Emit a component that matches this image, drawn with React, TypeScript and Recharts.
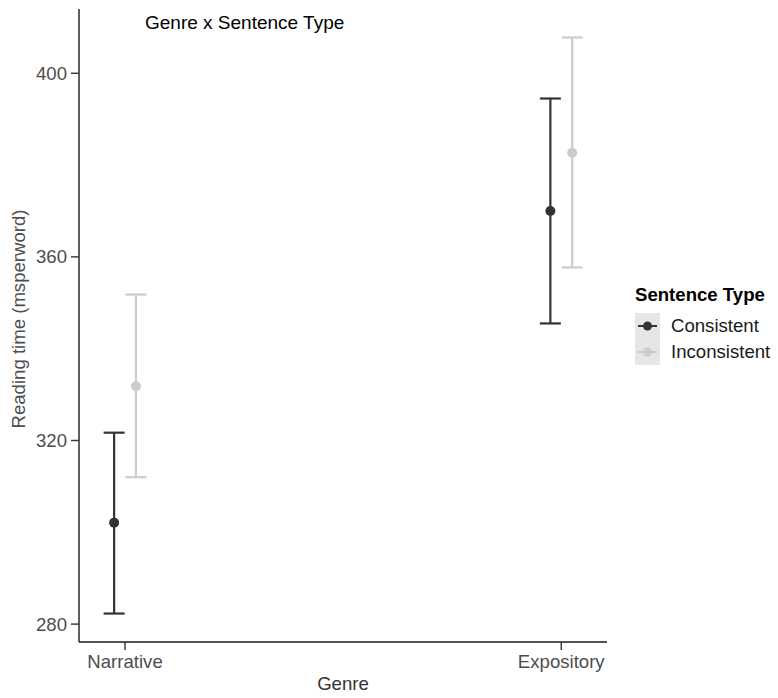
import React from 'react';
import { ComposedChart, Scatter, ErrorBar, XAxis, YAxis, Customized } from 'recharts';

const genres = ['Narrative', 'Expository'];
const seriesNames = ['Consistent', 'Inconsistent'];
const seriesColors = ['#333333', '#cccccc'];
const consistentMean = [302.1, 370.0];
const consistentLower = [282.3, 345.5];
const consistentUpper = [321.7, 394.5];
const inconsistentMean = [331.8, 382.7];
const inconsistentLower = [312.0, 357.7];
const inconsistentUpper = [351.8, 407.8];
const yTicks = [280, 320, 360, 400];

const FONT = '"Liberation Sans", Arial, Helvetica, sans-serif';
const FS = 18.6;
const DODGE = 0.025;

const build = (means: number[], lows: number[], highs: number[], offset: number) =>
  genres.map((g, i) => ({
    x: i + 1 + offset,
    y: means[i],
    err: [means[i] - lows[i], highs[i] - means[i]],
  }));

const consistentData = build(consistentMean, consistentLower, consistentUpper, -DODGE);
const inconsistentData = build(inconsistentMean, inconsistentLower, inconsistentUpper, DODGE);

const dot = (color: string) => (props: any) => {
  const { cx, cy } = props;
  if (cx == null || cy == null) return <g />;
  return <circle cx={cx} cy={cy} r={5} fill={color} stroke="none" />;
};

const LegendBox = () => (
  <div style={{ position: 'absolute', left: 635, top: 283, fontFamily: FONT, color: '#000' }}>
    <div style={{ fontWeight: 'bold', fontSize: FS, lineHeight: '24px', marginBottom: 6, whiteSpace: 'nowrap' }}>
      Sentence Type
    </div>
    {seriesNames.map((name, i) => (
      <div key={name} style={{ display: 'flex', alignItems: 'center', height: 26 }}>
        <svg width={25} height={26} style={{ background: '#e6e6e6', display: 'block' }}>
          <line x1={3} y1={13} x2={22} y2={13} stroke={seriesColors[i]} strokeWidth={2} />
          <circle cx={12.5} cy={13} r={4.5} fill={seriesColors[i]} />
        </svg>
        <span style={{ fontSize: FS, marginLeft: 11, whiteSpace: 'nowrap', color: '#1a1a1a' }}>{name}</span>
      </div>
    ))}
  </div>
);

const Title = () => (
  <text x={145} y={29} fontSize={19} fontFamily={FONT} fill="#000">
    Genre x Sentence Type
  </text>
);

export default function App() {
  return (
    <div style={{ position: 'absolute', left: 0, top: 0, width: 778, height: 698, background: '#fff' }}>
      <ComposedChart
        width={778}
        height={698}
        margin={{ top: 9, right: 171, left: 0, bottom: 0 }}
      >
        <XAxis
          type="number"
          dataKey="x"
          domain={[0.8945, 2.1048]}
          ticks={[1, 2]}
          tickFormatter={(v: number) => genres[Math.round(v) - 1]}
          allowDataOverflow
          height={56}
          axisLine={{ stroke: '#1a1a1a', strokeWidth: 1.4 }}
          tickLine={{ stroke: '#333', strokeWidth: 1.4 }}
          tickSize={8}
          tickMargin={5}
          tick={{ fill: '#4d4d4d', fontSize: FS, fontFamily: FONT }}
          label={{
            content: () => (
              <text x={343} y={690} textAnchor="middle" fontSize={FS} fontFamily={FONT} fill="#333">
                Genre
              </text>
            ),
          }}
        />
        <YAxis
          type="number"
          dataKey="y"
          domain={[276.1, 414.0]}
          ticks={yTicks}
          allowDataOverflow
          width={79}
          axisLine={{ stroke: '#1a1a1a', strokeWidth: 1.4 }}
          tickLine={{ stroke: '#333', strokeWidth: 1.4 }}
          tickSize={8}
          tickMargin={4}
          tick={{ fill: '#4d4d4d', fontSize: FS, fontFamily: FONT }}
          label={{
            content: () => (
              <text
                x={25}
                y={319}
                textAnchor="middle"
                transform="rotate(-90 25 319)"
                fontSize={FS}
                fontFamily={FONT}
                fill="#4d4d4d"
              >
                Reading time (msperword)
              </text>
            ),
          }}
        />
        <Scatter
          name={seriesNames[0]}
          data={consistentData}
          dataKey="y"
          fill={seriesColors[0]}
          shape={dot(seriesColors[0])}
          isAnimationActive={false}
        >
          <ErrorBar dataKey="err" direction="y" width={10.5} stroke={seriesColors[0]} strokeWidth={2.2} isAnimationActive={false} />
        </Scatter>
        <Scatter
          name={seriesNames[1]}
          data={inconsistentData}
          dataKey="y"
          fill={seriesColors[1]}
          shape={dot(seriesColors[1])}
          isAnimationActive={false}
        >
          <ErrorBar dataKey="err" direction="y" width={10.5} stroke={seriesColors[1]} strokeWidth={2.2} isAnimationActive={false} />
        </Scatter>
        <Customized component={Title} />
      </ComposedChart>
      <LegendBox />
    </div>
  );
}
